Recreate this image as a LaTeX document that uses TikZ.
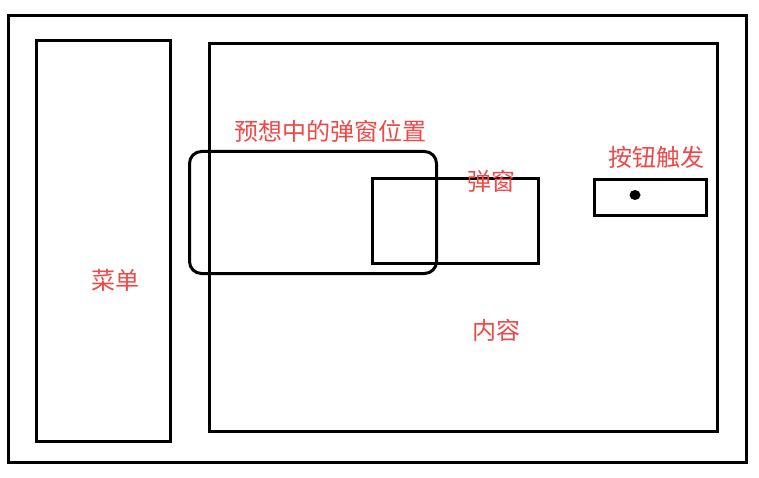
\documentclass[tikz,border=0pt]{standalone}
\usepackage{fontspec}
\newfontfamily\cjk{Noto Sans CJK SC}
\begin{document}
\begin{tikzpicture}[x=1pt,y=-1pt,
  box/.style={draw=black,line width=3pt,inner sep=0pt},
  lbl/.style={text=redlbl,font=\cjk\fontsize{24}{27}\selectfont,inner sep=0pt}]
\definecolor{redlbl}{HTML}{F04848}
\useasboundingbox[fill=white] (0,0) rectangle (759,478);
\draw[box] (8,16) rectangle (746,462);
\node[box,minimum width=134pt,minimum height=401pt,anchor=north west] (menu) at (35,39) {};
\node[box,minimum width=508pt,minimum height=388pt,anchor=north west] (content) at (208,42) {};
\node[box,minimum width=166pt,minimum height=85pt,anchor=north west] (popup) at (371,177) {};
\node[box,rounded corners=12pt,minimum width=247pt,minimum height=122pt,anchor=north west] (expected) at (188,150) {};
\node[box,minimum width=112pt,minimum height=36pt,anchor=north west] (button) at (593,178) {};
\fill (635,195) ellipse (5.5 and 5) node (dot) {};
\node[lbl] (texp) at (330,131) {预想中的弹窗位置};
\node[lbl] (tpop) at (491,181) {弹窗};
\node[lbl] (tbtn) at (656,157) {按钮触发};
\node[lbl] (tmenu) at (115,280) {菜单};
\node[lbl] (tcont) at (496,330) {内容};
\end{tikzpicture}
\end{document}
